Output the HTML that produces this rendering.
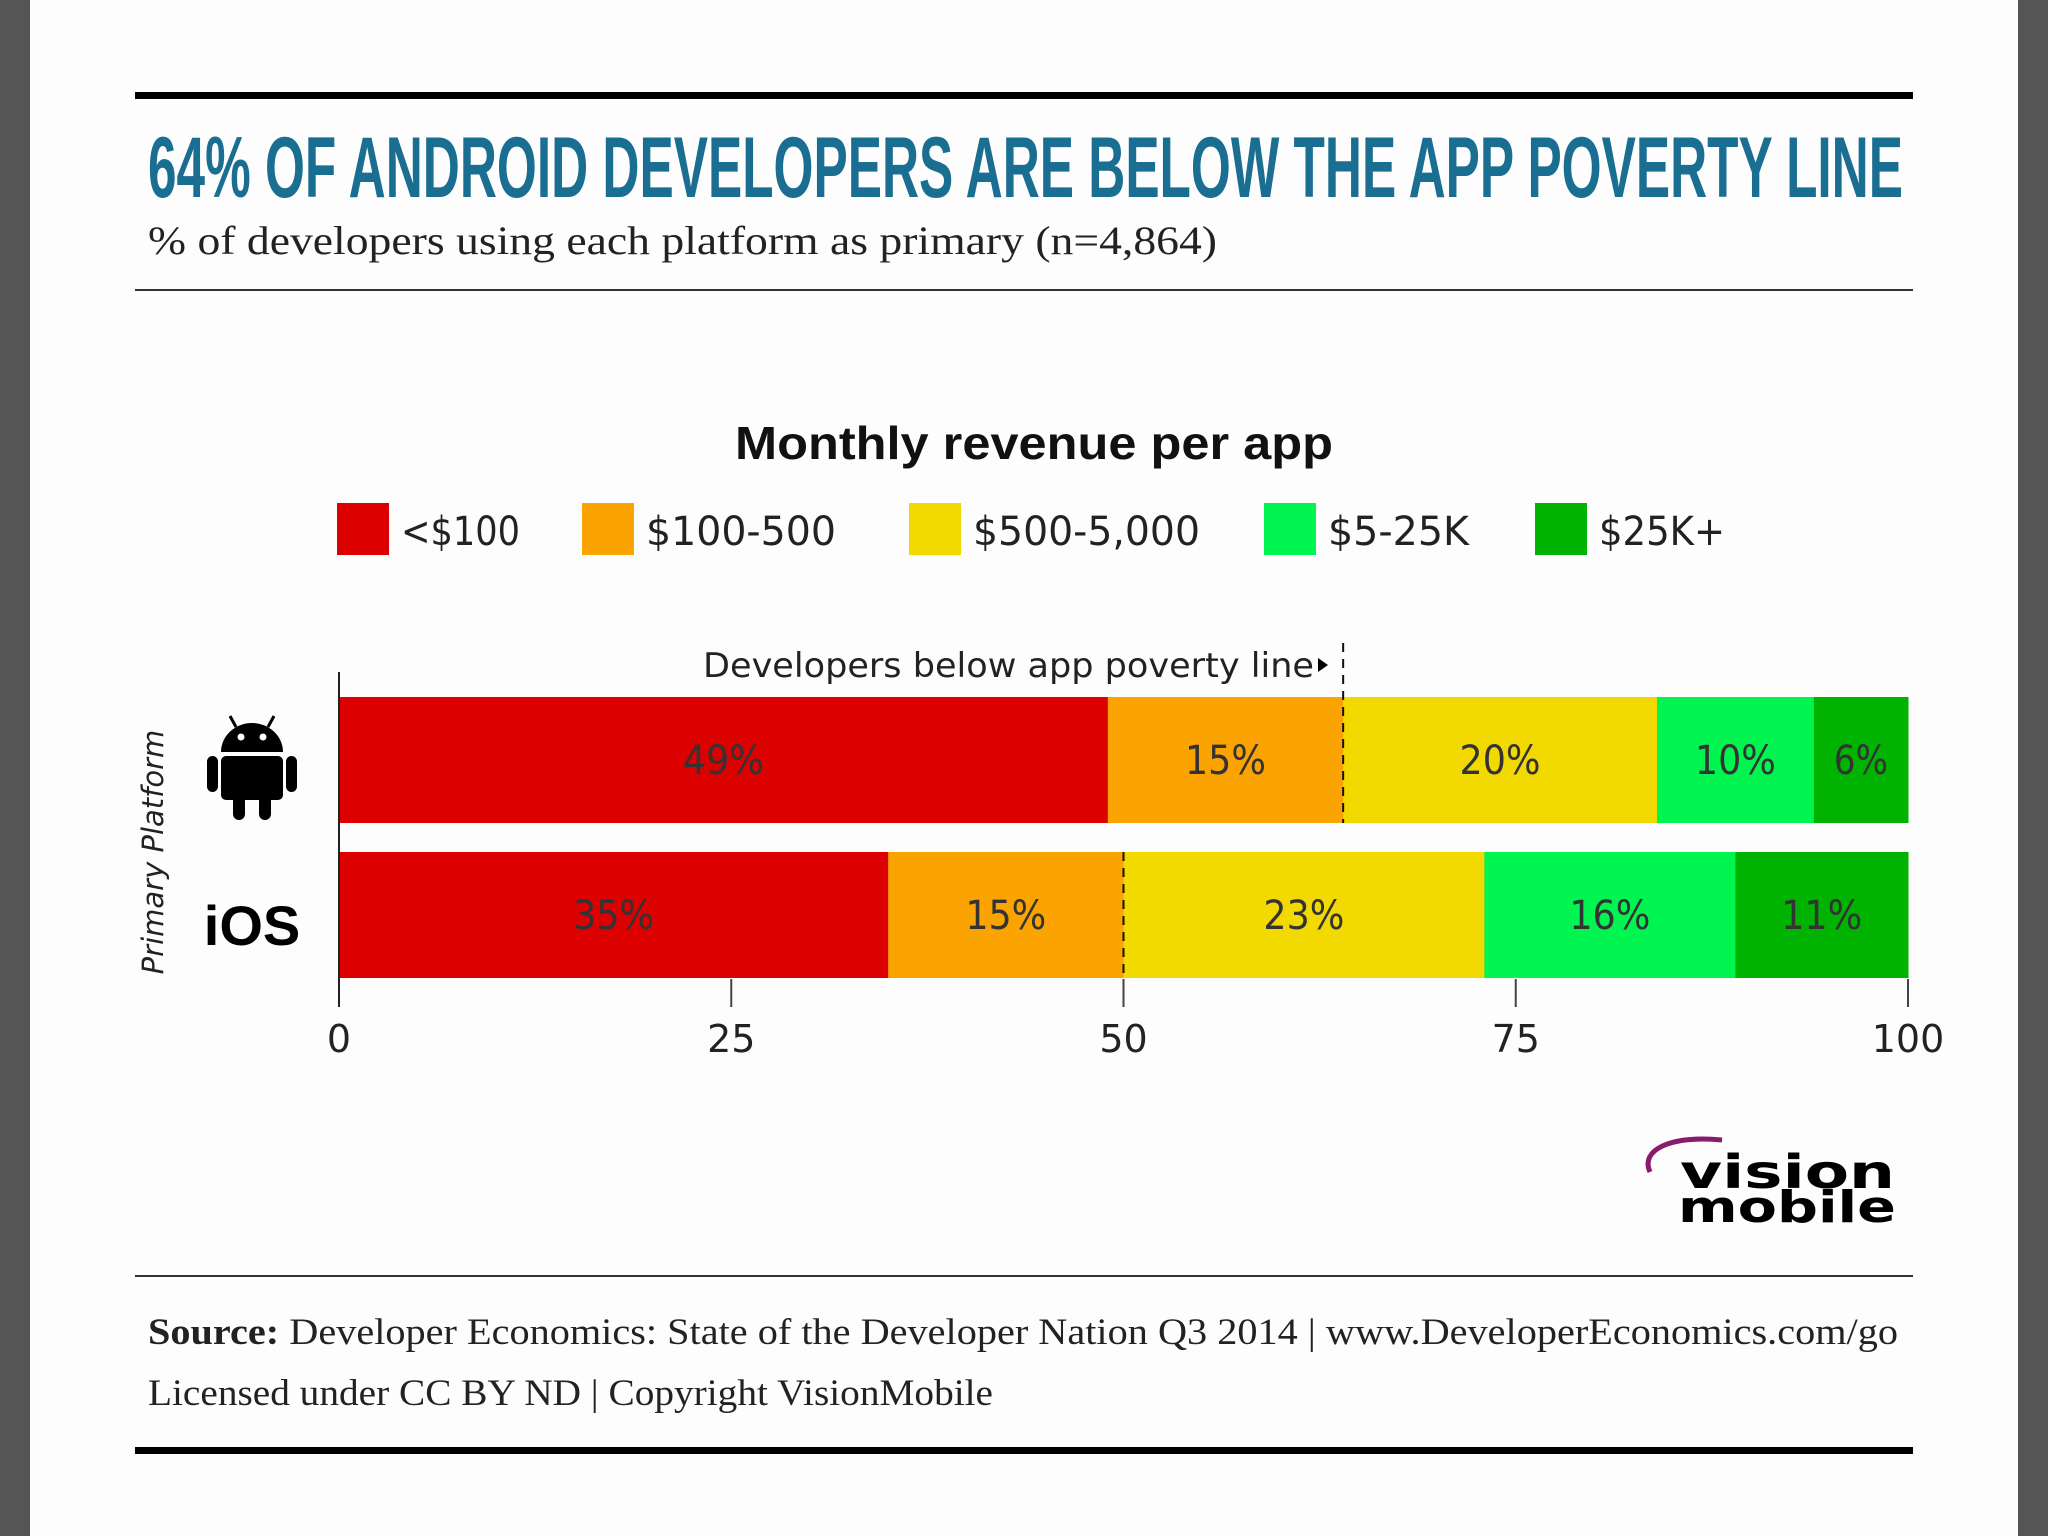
<!DOCTYPE html>
<html><head><meta charset="utf-8"><style>
html,body{margin:0;padding:0;background:#fff}
svg{display:block}
</style></head><body>
<svg id="chart" width="2048" height="1536" viewBox="0 0 2048 1536" xmlns="http://www.w3.org/2000/svg">
<rect x="0" y="0" width="2048" height="1536" fill="#fdfdfd"/>
<rect x="0" y="0" width="30" height="1536" fill="#555"/>
<rect x="2018" y="0" width="30" height="1536" fill="#555"/>
<rect x="135" y="92" width="1778" height="7" fill="#000"/>
<text x="148" y="197" textLength="1755" lengthAdjust="spacingAndGlyphs" font-family="'Liberation Sans Narrow','Liberation Sans',sans-serif" font-weight="bold" font-size="86" fill="#1a6e91">64% OF ANDROID DEVELOPERS ARE BELOW THE APP POVERTY LINE</text>
<text x="148" y="254" textLength="1069" lengthAdjust="spacingAndGlyphs" font-family="'Liberation Serif',serif" font-size="40" fill="#222">% of developers using each platform as primary (n=4,864)</text>
<rect x="135" y="289" width="1778" height="2" fill="#333"/>
<text x="1034" y="459" text-anchor="middle" textLength="598" lengthAdjust="spacingAndGlyphs" font-family="'Liberation Sans',sans-serif" font-weight="bold" font-size="46" fill="#111">Monthly revenue per app</text>
<g id="legend"></g>
<text x="163" y="852" transform="rotate(-90 163 852)" text-anchor="middle" font-family="'DejaVu Sans',sans-serif" font-style="italic" font-size="29" fill="#222">Primary Platform</text>
<g fill="#000">
<path d="M221,752 a31,29 0 0 1 62,0 z"/>
<line x1="230" y1="716" x2="236" y2="727" stroke="#000" stroke-width="3"/>
<line x1="274" y1="716" x2="268" y2="727" stroke="#000" stroke-width="3"/>
<circle cx="241" cy="737" r="3.5" fill="#fff"/><circle cx="263" cy="737" r="3.5" fill="#fff"/>
<rect x="221" y="756" width="62" height="44" rx="5"/>
<rect x="207" y="756" width="11" height="36" rx="5.5"/>
<rect x="286" y="756" width="11" height="36" rx="5.5"/>
<rect x="233" y="795" width="12" height="25" rx="6"/>
<rect x="259" y="795" width="12" height="25" rx="6"/>
</g>
<text x="252" y="945" text-anchor="middle" font-family="'Liberation Sans',sans-serif" font-weight="bold" font-size="56" fill="#000">iOS</text>
<g id="bars"></g>
<g id="axis"></g>
<text x="1314" y="677" text-anchor="end" font-family="'DejaVu Sans',sans-serif" font-size="34" fill="#222" textLength="611" lengthAdjust="spacingAndGlyphs">Developers below app poverty line</text>
<path d="M1318,658 l10,7 l-10,7 z" fill="#000"/>
<g>
<path d="M1650,1172 C1640,1150 1670,1135 1722,1140" fill="none" stroke="#8a1a6a" stroke-width="5"/>
<text x="1680" y="1188" font-family="'DejaVu Sans',sans-serif" font-weight="bold" font-size="46" fill="#000" textLength="215" lengthAdjust="spacingAndGlyphs">vision</text>
<text x="1678" y="1222" font-family="'DejaVu Sans',sans-serif" font-weight="bold" font-size="44" fill="#000" textLength="218" lengthAdjust="spacingAndGlyphs">mobile</text>
</g>
<rect x="135" y="1275" width="1778" height="2" fill="#333"/>
<text x="148" y="1344" textLength="1750" lengthAdjust="spacingAndGlyphs" font-family="'Liberation Serif',serif" font-size="37" fill="#222"><tspan font-weight="bold">Source:</tspan> Developer Economics: State of the Developer Nation Q3 2014 | www.DeveloperEconomics.com/go</text>
<text x="148" y="1405" textLength="845" lengthAdjust="spacingAndGlyphs" font-family="'Liberation Serif',serif" font-size="37" fill="#222">Licensed under CC BY ND | Copyright VisionMobile</text>
<rect x="135" y="1447" width="1778" height="7" fill="#000"/>
</svg>
<script>
const categories = ['Android', 'iOS'];
const bands = ['<$100', '$100-500', '$500-5,000', '$5-25K', '$25K+'];
const androidValues = [49, 15, 20, 10, 6];
const iosValues = [35, 15, 23, 16, 11];
const povertyLine = [64, 50];
const tickValues = [0, 25, 50, 75, 100];
const colors = ['#dd0000', '#fba300', '#f2d900', '#00f550', '#00b300'];

const NS = 'http://www.w3.org/2000/svg';
const X0 = 339, X1 = 1908;
const xs = v => X0 + (X1 - X0) * v / 100;
const rowTop = [697, 852], rowH = 126;
function mk(tag, attrs, parent) {
  const e = document.createElementNS(NS, tag);
  for (const k in attrs) e.setAttribute(k, attrs[k]);
  parent.appendChild(e);
  return e;
}
const legend = document.getElementById('legend');
const legX = [337, 582, 909, 1264, 1535];
const legW = [119, 190, 227, 141, 126];
bands.forEach((b, i) => {
  const r = mk('rect', {x: legX[i], y: 503, width: 52, height: 52, fill: colors[i]}, legend);
  
  
  const t = mk('text', {x: legX[i] + 64, y: 545, 'font-family': "'DejaVu Sans',sans-serif", 'font-size': 40, fill: '#222', textLength: legW[i], lengthAdjust: 'spacingAndGlyphs'}, legend);
  t.textContent = b;
  
  
});
const bars = document.getElementById('bars');
[androidValues, iosValues].forEach((vals, r) => {
  let acc = 0;
  vals.forEach((v, i) => {
    const x = xs(acc), w = xs(acc + v) - x;
    const rect = mk('rect', {x: x, y: rowTop[r], width: w + 0.5, height: rowH, fill: colors[i]}, bars);
    
    
    const t = mk('text', {x: x + w / 2, y: rowTop[r] + rowH / 2 + 14, 'text-anchor': 'middle', 'font-family': "'DejaVu Sans',sans-serif", 'font-size': 40, fill: '#333', textLength: (String(v).length + 1) * 27, lengthAdjust: 'spacingAndGlyphs'}, bars);
    t.textContent = v + '%';
    
    
    acc += v;
  });
  const top = r === 0 ? 643 : rowTop[r];
  const dl = mk('line', {x1: xs(povertyLine[r]), x2: xs(povertyLine[r]), y1: top, y2: rowTop[r] + rowH, stroke: '#111', 'stroke-width': 2, 'stroke-dasharray': '9,7'}, bars);
  
  
});
const axis = document.getElementById('axis');
mk('line', {x1: X0, x2: X0, y1: 672, y2: 1007, stroke: '#222', 'stroke-width': 2}, axis);
tickValues.forEach(v => {
  if (v > 0) {
    const tk = mk('line', {x1: xs(v), x2: xs(v), y1: 979, y2: 1007, stroke: '#444', 'stroke-width': 2}, axis);
    
    
  }
  const t = mk('text', {x: xs(v), y: 1052, 'text-anchor': 'middle', 'font-family': "'DejaVu Sans',sans-serif", 'font-size': 38, fill: '#222'}, axis);
  t.textContent = v;
  
  
});
</script>
</body></html>
